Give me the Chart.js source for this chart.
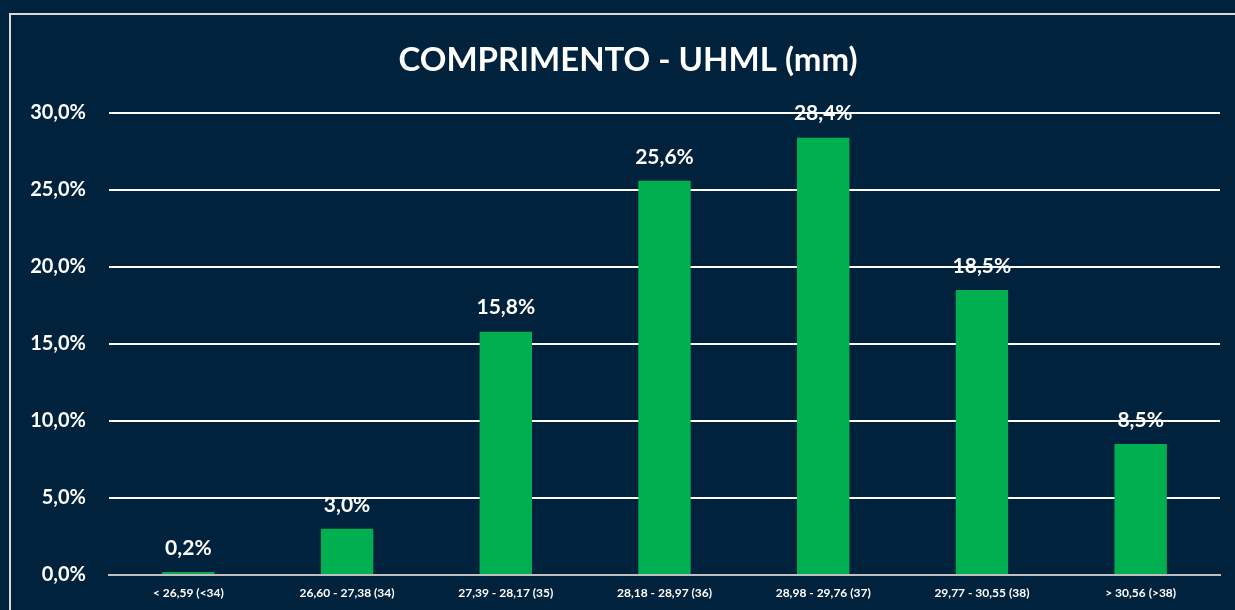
<!DOCTYPE html>
<html>
<head>
<meta charset="utf-8">
<script src="https://cdn.jsdelivr.net/npm/chart.js@4/dist/chart.umd.min.js"></script>
<style>
  html, body { margin: 0; padding: 0; background: #00223d; }
  #wrap { width: 1235px; height: 610px; }
</style>
</head>
<body>
<div id="wrap"><canvas id="uhml" width="1235" height="610"></canvas></div>
<script>
var categorias = ["< 26,59 (<34)", "26,60 - 27,38 (34)", "27,39 - 28,17 (35)", "28,18 - 28,97 (36)",
  "28,98 - 29,76 (37)", "29,77 - 30,55 (38)", "> 30,56 (>38)"];
var percentuais = [0.2, 3.0, 15.8, 25.6, 28.4, 18.5, 8.5];
var ticksY = [0, 5, 10, 15, 20, 25, 30];

var fonte = "Lato, 'Open Sans', sans-serif";

function fmt(v) {
  return v.toFixed(1).replace(".", ",") + "%";
}

// fundo, moldura e titulo
var fundo = {
  id: "fundo",
  beforeDraw: function (chart) {
    var ctx = chart.ctx;
    ctx.save();
    ctx.fillStyle = "#00223d";
    ctx.fillRect(0, 0, chart.width, chart.height);
    ctx.strokeStyle = "#d9d9d9";
    ctx.lineWidth = 2;
    ctx.strokeRect(10, 14, chart.width + 20, chart.height + 20);
    ctx.fillStyle = "#ffffff";
    ctx.font = "bold 33px " + fonte;
    ctx.textAlign = "center";
    ctx.textBaseline = "middle";
    ctx.fillText("COMPRIMENTO - UHML (mm)", 628, 60);
    ctx.restore();
  }
};

// rotulos em cima das barras
var rotulos = {
  id: "rotulos",
  afterDatasetsDraw: function (chart) {
    var ctx = chart.ctx;
    var meta = chart.getDatasetMeta(0);
    ctx.save();
    ctx.fillStyle = "#ffffff";
    ctx.font = "bold 21px " + fonte;
    ctx.textAlign = "center";
    ctx.textBaseline = "middle";
    meta.data.forEach(function (bar, i) {
      ctx.fillText(fmt(percentuais[i]), bar.x, bar.y - 24);
    });
    ctx.restore();
  }
};

var config = {
  type: "bar",
  data: {
    labels: categorias,
    datasets: [{
      data: percentuais,
      backgroundColor: "#00b050",
      borderWidth: 0,
      barPercentage: 0.66,
      categoryPercentage: 0.5
    }]
  },
  options: {
    responsive: false,
    animation: false,
    layout: { padding: { top: 113, right: 15, left: 0, bottom: 0 } },
    plugins: {
      legend: { display: false },
      tooltip: { enabled: false }
    },
    scales: {
      x: {
        grid: { display: false, drawTicks: false },
        border: { color: "#bfbfbf", width: 2 },
        ticks: {
          color: "#ffffff",
          font: { family: fonte, size: 12, weight: "bold" },
          maxRotation: 0,
          autoSkip: false,
          padding: 11
        },
        afterFit: function (s) { s.height = 32; }
      },
      y: {
        min: 0,
        max: 30,
        afterBuildTicks: function (s) {
          s.ticks = ticksY.map(function (v) { return { value: v }; });
        },
        grid: {
          color: function (c) { return c.tick.value === 0 ? "#bfbfbf" : "#ffffff"; },
          lineWidth: 2,
          drawTicks: false
        },
        border: { display: false },
        ticks: {
          color: "#ffffff",
          font: { family: fonte, size: 20, weight: "bold" },
          padding: 23,
          callback: function (v) { return fmt(v); }
        },
        afterFit: function (s) { s.width = 109; }
      }
    }
  },
  plugins: [fundo, rotulos]
};

var grafico = new Chart(document.getElementById("uhml"), config);
</script>
</body>
</html>
